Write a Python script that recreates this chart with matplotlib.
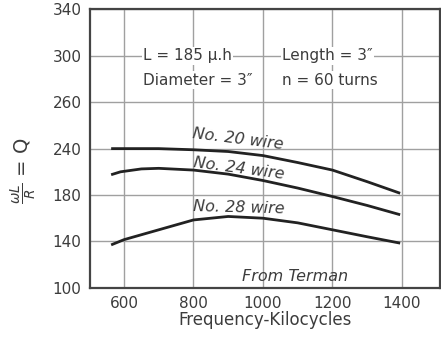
import matplotlib.pyplot as plt

# Q of a coil vs frequency
freq_20 = [563, 700, 800, 900, 1000, 1100, 1200, 1300, 1395]
q_20 = [220, 220, 219, 217.5, 214, 208, 201.5, 191.5, 181.5]

freq_24 = [563, 590, 650, 700, 800, 900, 1000, 1100, 1200, 1300, 1395]
q_24 = [197.5, 200, 202.5, 203, 201.5, 198, 192.5, 186, 178.7, 171, 163]

freq_28 = [563, 600, 700, 800, 900, 1000, 1100, 1200, 1300, 1395]
q_28 = [137, 141.5, 150, 158.5, 161.5, 160, 156, 150, 144, 138.5]

x_ticks = [600, 800, 1000, 1200, 1400]
y_ticks = [100, 140, 180, 220, 260, 300, 340]
y_labels = ["100", "140", "180", "240", "260", "300", "340"]

ink = "#3c3c3c"
grid = "#a0a0a0"

fig = plt.figure(figsize=(4.41, 3.37), dpi=100)
ax = fig.add_axes([0.204, 0.146, 0.794, 0.826])

for f, q in [(freq_20, q_20), (freq_24, q_24), (freq_28, q_28)]:
    ax.plot(f, q, color="#222222", lw=2.0, solid_capstyle="butt")

ax.set_xlim(502, 1510)
ax.set_ylim(100, 340)
ax.set_xticks(x_ticks)
ax.set_yticks(y_ticks)
ax.set_yticklabels(y_labels)
ax.grid(True, color=grid, lw=1.0)
ax.set_axisbelow(True)
ax.tick_params(length=0, labelsize=11, colors=ink, pad=6)
for s in ax.spines.values():
    s.set_color("#444444")
    s.set_linewidth(1.6)

ax.set_xlabel("Frequency-Kilocycles", fontsize=12, color=ink, labelpad=0)
ax.set_ylabel(r"$\frac{\omega L}{R}$ = Q", fontsize=14, color=ink)
ax.yaxis.set_label_coords(-0.145, 0.42)

box = dict(facecolor="white", edgecolor="none", pad=1.0)
ax.text(655, 300, "L = 185 \u03bc.h", fontsize=11, color=ink,
        ha="left", va="center", bbox=box)
ax.text(655, 279, "Diameter = 3\u2033", fontsize=11, color=ink,
        ha="left", va="center", bbox=box)
ax.text(1055, 300, "Length = 3\u2033", fontsize=11, color=ink,
        ha="left", va="center", bbox=box)
ax.text(1055, 279, "n = 60 turns", fontsize=11, color=ink,
        ha="left", va="center", bbox=box)

lab = dict(fontsize=11.5, style="italic", color=ink, ha="left",
           va="baseline", rotation_mode="anchor")
ax.text(795, 229, "No. 20 wire", rotation=-7, **lab)
ax.text(798, 204.5, "No. 24 wire", rotation=-7.5, **lab)
ax.text(798, 166, "No. 28 wire", rotation=-1.5, **lab)
ax.text(940, 105.5, "From Terman", **lab)

fig.savefig("out.png", dpi=100)
